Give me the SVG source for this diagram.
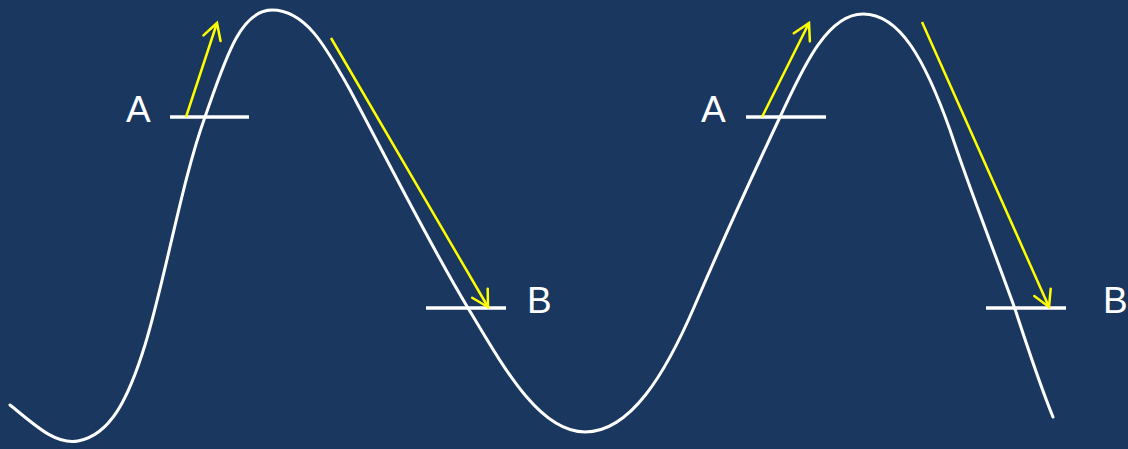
<svg xmlns="http://www.w3.org/2000/svg" width="1128" height="449" viewBox="0 0 1128 449">
  <style>
    .curve { fill: none; stroke: #ffffff; stroke-width: 3; stroke-linecap: round; stroke-linejoin: round; }
    .level { stroke: #ffffff; stroke-width: 3.5; }
    .lbl { font-family: "Liberation Sans", "Open Sans", sans-serif; font-size: 37px; fill: #ffffff; }
    .arr { fill: none; stroke: #ffff00; stroke-width: 2.5; marker-end: url(#head); }
  </style>
  <defs>
    <marker id="head" markerUnits="userSpaceOnUse" markerWidth="24" markerHeight="24" viewBox="-20 -12 24 24" refX="0" refY="0" orient="auto" overflow="visible">
      <path d="M-16,-9 L0,0 L-16,9" fill="none" stroke="#ffff00" stroke-width="2.5" stroke-linecap="round" stroke-linejoin="miter"/>
    </marker>
  </defs>
  <rect width="1128" height="449" fill="#19375f"/>
  <g id="curve">
    <path class="curve" d="M10,405 C35,425 55,445 78,441 C110,435 128,400 145,345 C165,280 182,180 205,117 C225,60 240,10 272,10 C305,10 325,45 350,90 C390,165 430,245 468,308 C505,370 540,432 585,432 C630,432 665,375 695,305 C725,235 755,170 780,117 C800,75 825,14 863,14 C900,14 925,60 950,130 C970,190 990,240 1015,309 C1030,355 1040,385 1053,417"/>
  </g>
  <g id="levelA1"><line class="level" x1="170" y1="117" x2="249" y2="117"/><text class="lbl" x="126" y="122">A</text></g>
  <g id="levelB1"><line class="level" x1="426" y1="308" x2="506" y2="308"/><text class="lbl" x="527" y="313">B</text></g>
  <g id="levelA2"><line class="level" x1="746" y1="117" x2="826" y2="117"/><text class="lbl" x="701" y="122">A</text></g>
  <g id="levelB2"><line class="level" x1="986" y1="308" x2="1066" y2="308"/><text class="lbl" x="1103" y="313">B</text></g>
  <g id="connectors">
    <line class="arr" x1="186" y1="117" x2="217" y2="23"/>
    <line class="arr" x1="331" y1="38" x2="488" y2="307"/>
    <line class="arr" x1="762" y1="117" x2="809" y2="23"/>
    <line class="arr" x1="922" y1="22" x2="1049" y2="307"/>
  </g>
</svg>
